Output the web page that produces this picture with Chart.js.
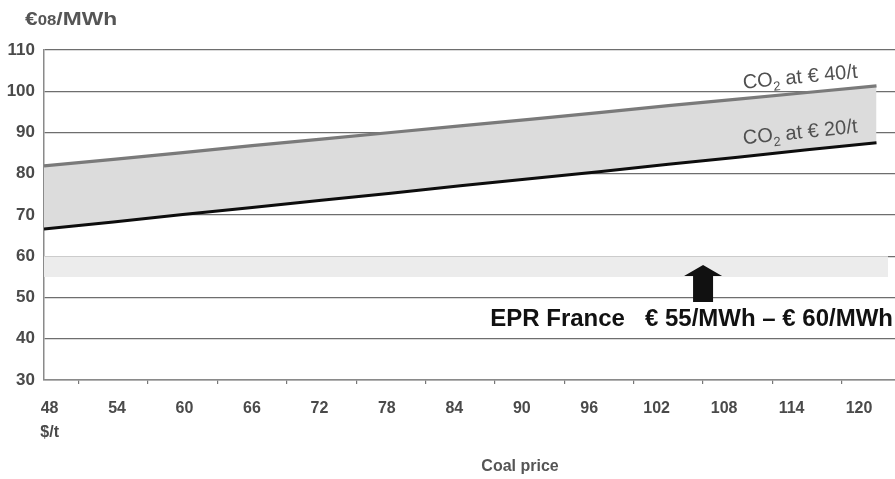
<!DOCTYPE html>
<html>
<head>
<meta charset="utf-8">
<script src="https://cdn.jsdelivr.net/npm/chart.js@4.4.0/dist/chart.umd.min.js"></script>
<style>
  html, body { margin: 0; padding: 0; background: #ffffff; }
  #wrap { width: 895px; height: 479px; position: relative; }
</style>
</head>
<body>
<div id="wrap"><canvas id="c"></canvas></div>
<script>
// Coal price ($/t) on the horizontal axis
const coalPrices = [48, 54, 60, 66, 72, 78, 84, 90, 96, 102, 108, 114, 120];
// Generation cost of coal power (€08/MWh) for two CO2 prices
const co2At40 = [81.9, 83.5, 85.1, 86.8, 88.4, 90.0, 91.6, 93.2, 94.8, 96.5, 98.1, 99.7, 101.3];
const co2At20 = [66.6, 68.3, 70.1, 71.8, 73.6, 75.3, 77.1, 78.8, 80.5, 82.3, 84.0, 85.8, 87.5];
// EPR France cost range (€/MWh) and the coal-price span it is drawn across
const eprLow = 55;
const eprHigh = 60;
const eprSpan = [48, 121];
// Tick labels
const coalTickLabels = coalPrices.map(String);
const yMin = 30, yMax = 110, yStep = 10;

const FONT = '"Liberation Sans", Arial, sans-serif';
const pts = (xs, ys) => xs.map((v, i) => ({ x: v, y: ys[i] }));

const notes = {
  id: 'notes',
  afterDatasetsDraw(chart) {
    const { ctx, scales: { x, y } } = chart;
    ctx.save();

    // CO2 labels, tilted with their lines
    const n = coalPrices.length - 1;
    const drawCo2 = (vals, label, lx, ly) => {
      const ang = Math.atan2(
        y.getPixelForValue(vals[n]) - y.getPixelForValue(vals[0]),
        x.getPixelForValue(coalPrices[n]) - x.getPixelForValue(coalPrices[0]));
      const px = x.getPixelForValue(lx), py = y.getPixelForValue(ly);
      ctx.save();
      ctx.translate(px, py);
      ctx.rotate(ang);
      ctx.fillStyle = '#505050';
      ctx.textBaseline = 'middle';
      ctx.textAlign = 'left';
      const big = `20px ${FONT}`, small = `13px ${FONT}`;
      ctx.font = big; const wCO = ctx.measureText('CO').width;
      const rest = ' at € ' + label;
      const wRest = ctx.measureText(rest).width;
      ctx.font = small; const w2 = ctx.measureText('2').width;
      const total = wCO + w2 + wRest;
      let cx = -total / 2;
      ctx.font = big; ctx.fillText('CO', cx, 0); cx += wCO;
      ctx.font = small; ctx.fillText('2', cx, 7); cx += w2;
      ctx.font = big; ctx.fillText(rest, cx, 0);
      ctx.restore();
    };
    drawCo2(co2At40, '40/t', 113.4, 103.3);
    drawCo2(co2At20, '20/t', 113.4, 89.9);

    // Arrow pointing up to the EPR band
    const ax = x.getPixelForValue(105.0);
    const tip = y.getPixelForValue(57.9);
    const base = y.getPixelForValue(48.9);
    const headH = 11, headW = 19, shaftW = 10;
    ctx.fillStyle = '#111111';
    ctx.beginPath();
    ctx.moveTo(ax, tip);
    ctx.lineTo(ax + headW, tip + headH);
    ctx.lineTo(ax + shaftW, tip + headH);
    ctx.lineTo(ax + shaftW, base);
    ctx.lineTo(ax - shaftW, base);
    ctx.lineTo(ax - shaftW, tip + headH);
    ctx.lineTo(ax - headW, tip + headH);
    ctx.closePath();
    ctx.fill();

    // EPR caption
    ctx.font = `bold 24px ${FONT}`;
    ctx.textAlign = 'right';
    ctx.textBaseline = 'middle';
    ctx.fillStyle = '#111111';
    ctx.fillText(`EPR France   € ${eprLow}/MWh – € ${eprHigh}/MWh`, chart.chartArea.right - 2, y.getPixelForValue(44.6));
    ctx.restore();
  },
  afterDraw(chart) {
    const { ctx } = chart;
    ctx.save();
    ctx.fillStyle = '#555555';
    ctx.textBaseline = 'alphabetic';
    ctx.textAlign = 'left';
    // vertical axis unit
    ctx.translate(25, 25);
    ctx.scale(1.2, 1);
    let cx = 0;
    ctx.font = `bold 19px ${FONT}`;
    ctx.fillText('€', cx, 0); cx += ctx.measureText('€').width;
    ctx.font = `bold 14px ${FONT}`;
    ctx.fillText('08', cx, 0); cx += ctx.measureText('08').width;
    ctx.font = `bold 19px ${FONT}`;
    ctx.fillText('/MWh', cx, 0);
    ctx.restore();

    // horizontal axis title
    ctx.save();
    ctx.fillStyle = '#555555';
    ctx.font = `bold 16px ${FONT}`;
    ctx.textAlign = 'center';
    ctx.textBaseline = 'middle';
    ctx.fillText('Coal price', 520, 467);
    ctx.restore();
  }
};

new Chart(document.getElementById('c'), {
  type: 'line',
  data: {
    datasets: [
      {
        label: 'CO2 at € 40/t',
        data: pts(coalPrices, co2At40),
        borderColor: '#7a7a7a',
        borderWidth: 3.2,
        backgroundColor: '#dcdcdc',
        fill: '+1',
        pointRadius: 0,
        tension: 0,
        order: 1
      },
      {
        label: 'CO2 at € 20/t',
        data: pts(coalPrices, co2At20),
        borderColor: '#0d0d0d',
        borderWidth: 3,
        fill: false,
        pointRadius: 0,
        tension: 0,
        order: 0
      },
      {
        label: 'EPR high',
        data: pts(eprSpan, [eprHigh, eprHigh]),
        borderWidth: 0,
        borderColor: 'rgba(0,0,0,0)',
        backgroundColor: '#ececec',
        fill: '+1',
        pointRadius: 0,
        order: 2
      },
      {
        label: 'EPR low',
        data: pts(eprSpan, [eprLow, eprLow]),
        borderWidth: 0,
        borderColor: 'rgba(0,0,0,0)',
        fill: false,
        pointRadius: 0,
        order: 3
      }
    ]
  },
  options: {
    responsive: true,
    maintainAspectRatio: false,
    animation: false,
    layout: { padding: { top: 50, right: 0, bottom: 0, left: 0 } },
    plugins: {
      legend: { display: false },
      tooltip: { enabled: false }
    },
    scales: {
      x: {
        type: 'linear',
        position: 'bottom',
        min: 48,
        max: 121.6,
        afterBuildTicks: (axis) => {
          axis.ticks = coalPrices.slice(1).map(v => ({ value: v - 3 }));
        },
        afterFit: (axis) => { axis.height = 4; },
        ticks: { display: false },
        grid: { drawOnChartArea: false, drawTicks: true, tickLength: 4, color: '#777777', lineWidth: 1.2 },
        border: { display: true, color: '#8a8a8a', width: 1.5 }
      },
      xl: {
        type: 'linear',
        position: 'bottom',
        min: 47.5,
        max: 123.2,
        afterBuildTicks: (axis) => {
          axis.ticks = coalPrices.map(v => ({ value: v }));
        },
        afterFit: (axis) => { axis.height = 95; },
        grid: { display: false },
        border: { display: false },
        ticks: {
          autoSkip: false,
          maxRotation: 0,
          padding: 5,
          color: '#4a4a4a',
          font: { family: FONT, size: 16, weight: 'bold', lineHeight: 1.5 },
          callback: (v, i) => i === 0 ? [coalTickLabels[i], '$/t'] : coalTickLabels[i]
        }
      },
      y: {
        type: 'linear',
        position: 'left',
        min: yMin,
        max: yMax,
        z: 1,
        afterFit: (axis) => { axis.width = 44; },
        ticks: {
          stepSize: yStep,
          padding: 9,
          color: '#4a4a4a',
          font: { family: FONT, size: 17, weight: 'bold' }
        },
        grid: { color: '#6e6e6e', lineWidth: 1.3, drawTicks: false },
        border: { display: true, color: '#8a8a8a', width: 1.5 }
      }
    }
  },
  plugins: [notes]
});
</script>
</body>
</html>
